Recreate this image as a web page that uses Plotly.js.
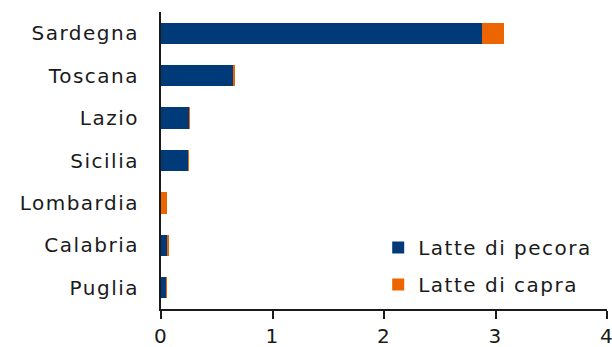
<!DOCTYPE html>
<html>
<head>
<meta charset="utf-8">
<script src="https://cdn.plot.ly/plotly-3.0.1.min.js"></script>
<style>
  html, body { margin: 0; padding: 0; background: #ffffff; }
  #chart { width: 612px; height: 347px; }
  /* wide, airy lettering for all chart text (also applied while Plotly measures it) */
  text { letter-spacing: 1.5px; }
</style>
</head>
<body>
<div id="chart"></div>
<script>
// Regions, top to bottom
const regions = ["Sardegna", "Toscana", "Lazio", "Sicilia", "Lombardia", "Calabria", "Puglia"];
// Sheep milk
const lattePecora = [2.88, 0.65, 0.247, 0.24, 0.0, 0.055, 0.043];
// Goat milk
const latteCapra = [0.20, 0.015, 0.015, 0.013, 0.05, 0.018, 0.012];
const xTicks = [0, 1, 2, 3, 4];

const FONT = "'DejaVu Sans', 'Liberation Sans', sans-serif";

const traces = [
  {
    type: "bar", orientation: "h", name: "Latte di pecora",
    y: regions, x: lattePecora,
    marker: { color: "#003a78" },
    legendgroup: "pecora", hoverinfo: "skip"
  },
  {
    type: "bar", orientation: "h", name: "Latte di capra",
    y: regions, x: latteCapra,
    marker: { color: "#ec6500" },
    legendgroup: "capra", hoverinfo: "skip"
  }
];

const layout = {
  width: 612, height: 347,
  margin: { l: 161, r: 5, t: 12, b: 38, pad: 0 },
  paper_bgcolor: "#ffffff", plot_bgcolor: "#ffffff",
  barmode: "stack", bargap: 0.5,
  font: { family: FONT, size: 20, color: "#1a1a1a" },
  showlegend: true,
  legend: {
    x: 0.487, y: 0.273, xanchor: "left", yanchor: "top",
    bgcolor: "rgba(0,0,0,0)",
    traceorder: "grouped", tracegroupgap: 8,
    font: { family: FONT, size: 20, color: "#1a1a1a" }
  },
  xaxis: {
    range: [0, 4], tickvals: xTicks, ticktext: xTicks.map(String),
    showgrid: false, zeroline: false,
    showline: true, linecolor: "#1a1a1a", linewidth: 2,
    ticks: "outside", ticklen: 8, tickwidth: 2, tickcolor: "#1a1a1a",
    ticklabeloverflow: "allow",
    tickfont: { family: FONT, size: 20, color: "#1a1a1a" },
    fixedrange: true
  },
  yaxis: {
    type: "category", categoryorder: "array", categoryarray: regions,
    autorange: "reversed",
    showgrid: false, zeroline: false,
    showline: true, linecolor: "#1a1a1a", linewidth: 2,
    ticks: "", ticklabelstandoff: 16,
    tickfont: { family: FONT, size: 20, color: "#1a1a1a" },
    fixedrange: true
  }
};

Plotly.newPlot("chart", traces, layout, { staticPlot: true, displayModeBar: false });
</script>
</body>
</html>
